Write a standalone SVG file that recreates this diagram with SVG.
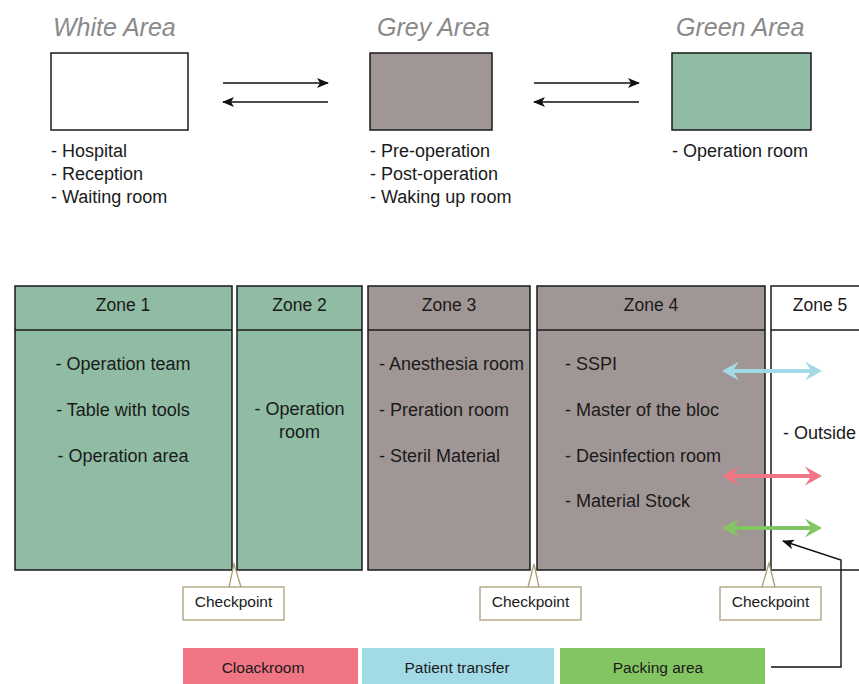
<svg xmlns="http://www.w3.org/2000/svg" width="859" height="684" viewBox="0 0 859 684">
<style>
text{font-family:"Liberation Sans",Arial,sans-serif;fill:#1a1a1a}
.title{font-size:25px;font-style:italic;fill:#8a8a8a}
.list{font-size:18px}
.zh{font-size:17.5px;text-anchor:middle}
.item{font-size:18px}
.c{text-anchor:middle}
.box{stroke:#1a1a1a;stroke-width:1.5}
.green{fill:#8fbca3}
.grey{fill:#a09695}
.cp{fill:#fff;stroke:#a89f78;stroke-width:1.3}
.cpl{fill:none;stroke:#a89f78;stroke-width:1.3}
.cpt{font-size:15.5px;text-anchor:middle}
.lg{font-size:15.5px;text-anchor:middle}
.conn{stroke:#111;stroke-width:1.4;fill:none}
</style>
<defs>
<marker id="ah" viewBox="0 0 12 10" refX="11" refY="5" markerWidth="12" markerHeight="10" markerUnits="userSpaceOnUse" orient="auto">
<path d="M0,0 L12,5 L0,10 L3,5 Z" fill="#111"/>
</marker>
<symbol id="dbl" viewBox="0 -10 100 20" width="100" height="20" overflow="visible">
<path d="M0,0 L17,-9.5 L12,-2 L88,-2 L83,-9.5 L100,0 L83,9.5 L88,2 L12,2 L17,9.5 Z"/>
</symbol>
</defs>

<g id="white-area">
<text class="title" x="53" y="36">White Area</text>
<rect x="51" y="53" width="137" height="77" fill="#fff" class="box"/>
<text class="list" x="51" y="157">- Hospital</text>
<text class="list" x="51" y="180">- Reception</text>
<text class="list" x="51" y="203">- Waiting room</text>
</g>
<g id="grey-area">
<text class="title" x="377" y="36">Grey Area</text>
<rect x="370" y="53" width="122" height="77" class="box grey"/>
<text class="list" x="370" y="157">- Pre-operation</text>
<text class="list" x="370" y="180">- Post-operation</text>
<text class="list" x="370" y="203">- Waking up room</text>
</g>
<g id="green-area">
<text class="title" x="676" y="36">Green Area</text>
<rect x="672" y="53" width="139" height="77" class="box green"/>
<text class="list" x="672" y="157">- Operation room</text>
</g>

<g id="zone1">
<rect x="15" y="286" width="217" height="284" class="box green"/>
<line x1="15" y1="330" x2="232" y2="330" class="box"/>
<text class="zh" x="123" y="311">Zone 1</text>
<text class="item c" x="123" y="370">- Operation team</text>
<text class="item c" x="123" y="416">- Table with tools</text>
<text class="item c" x="123" y="462">- Operation area</text>
</g>
<g id="zone2">
<rect x="237" y="286" width="125" height="284" class="box green"/>
<line x1="237" y1="330" x2="362" y2="330" class="box"/>
<text class="zh" x="299.5" y="311">Zone 2</text>
<text class="item c" x="299.5" y="415">- Operation</text>
<text class="item c" x="299.5" y="438">room</text>
</g>
<g id="zone3">
<rect x="368" y="286" width="162" height="284" class="box grey"/>
<line x1="368" y1="330" x2="530" y2="330" class="box"/>
<text class="zh" x="449" y="311">Zone 3</text>
<text class="item" x="379" y="370">- Anesthesia room</text>
<text class="item" x="379" y="416">- Preration room</text>
<text class="item" x="379" y="462">- Steril Material</text>
</g>
<g id="zone4">
<rect x="537" y="286" width="228" height="284" class="box grey"/>
<line x1="537" y1="330" x2="765" y2="330" class="box"/>
<text class="zh" x="651" y="311">Zone 4</text>
<text class="item" x="565" y="370">- SSPI</text>
<text class="item" x="565" y="416">- Master of the bloc</text>
<text class="item" x="565" y="462">- Desinfection room</text>
<text class="item" x="565" y="507">- Material Stock</text>
</g>
<g id="zone5">
<path d="M860,286 L771,286 L771,570 L860,570 M771,330 L860,330" fill="#fff" class="box"/>
<text class="zh" x="820" y="311">Zone 5</text>
<text class="item" x="783" y="439">- Outside</text>
</g>

<g id="checkpoint1">
<path d="M229,587 L234,564 L241,587" class="cpl"/>
<rect x="183" y="587" width="101" height="33" class="cp"/>
<text class="cpt" x="233.5" y="607">Checkpoint</text>
</g>
<g id="checkpoint2">
<path d="M528,587 L534,564 L539,587" class="cpl"/>
<rect x="480" y="587" width="101" height="33" class="cp"/>
<text class="cpt" x="530.5" y="607">Checkpoint</text>
</g>
<g id="checkpoint3">
<path d="M762,587 L769,563 L775,587" class="cpl"/>
<rect x="720" y="587" width="101" height="33" class="cp"/>
<text class="cpt" x="770.5" y="607">Checkpoint</text>
</g>

<g id="legend-cloackroom">
<rect x="183" y="648" width="175" height="36" fill="#f07585"/>
<text class="lg" x="263" y="673">Cloackroom</text>
</g>
<g id="legend-patient">
<rect x="362" y="648" width="192" height="36" fill="#a2dae6"/>
<text class="lg" x="457" y="673">Patient transfer</text>
</g>
<g id="legend-packing">
<rect x="560" y="648" width="205" height="36" fill="#84c563"/>
<text class="lg" x="658" y="673">Packing area</text>
</g>

<g id="connectors">
<line x1="223" y1="83" x2="328" y2="83" class="conn" marker-end="url(#ah)"/>
<line x1="328" y1="102" x2="223" y2="102" class="conn" marker-end="url(#ah)"/>
<line x1="534" y1="83" x2="639" y2="83" class="conn" marker-end="url(#ah)"/>
<line x1="639" y1="102" x2="534" y2="102" class="conn" marker-end="url(#ah)"/>
<use href="#dbl" x="722" y="361" fill="#a2dae6"/>
<use href="#dbl" x="722" y="466" fill="#f07585"/>
<use href="#dbl" x="722" y="518" fill="#84c563"/>
<polyline points="771,667 841,667 841,560 783,541" class="conn" marker-end="url(#ah)"/>
</g>
</svg>
